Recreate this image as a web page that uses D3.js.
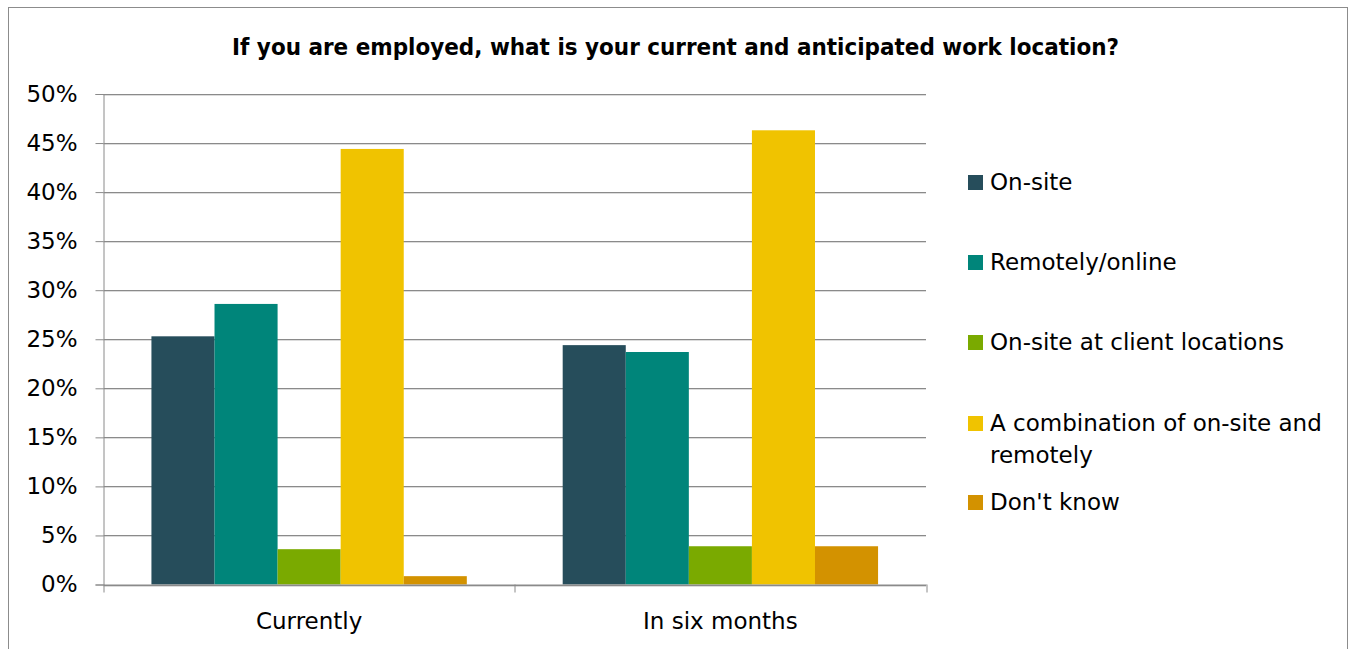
<!DOCTYPE html>
<html>
<head>
<meta charset="utf-8">
<script src="https://cdn.jsdelivr.net/npm/d3@7"></script>
<style>
  body { margin: 0; background: #fff; }
  text { font-family: "DejaVu Sans", sans-serif; fill: #000; }
</style>
</head>
<body>
<div id="chart"></div>
<script>
var svgWidth = 1349;
var svgHeight = 649;

// data
var categories = ["Currently", "In six months"];
var seriesNames = ["On-site", "Remotely/online", "On-site at client locations", "A combination of on-site and remotely", "Don't know"];
var seriesColors = ["#264d5b", "#00857a", "#7aaa00", "#f0c300", "#d39200"];
var onSite = [25.3, 24.4];
var remotely = [28.6, 23.7];
var clientSites = [3.6, 3.9];
var combination = [44.4, 46.3];
var dontKnow = [0.85, 3.9];
var yTicks = [0, 5, 10, 15, 20, 25, 30, 35, 40, 45, 50];

var seriesValues = [onSite, remotely, clientSites, combination, dontKnow];

var margin = { top: 94, left: 103.5, right: 1349 - 926, bottom: 649 - 584.5 };
var width = svgWidth - margin.left - margin.right;
var height = svgHeight - margin.top - margin.bottom;

var svg = d3.select("#chart")
    .append("svg")
    .attr("width", svgWidth)
    .attr("height", svgHeight);

// outer frame
svg.append("rect")
    .attr("x", 8.5)
    .attr("y", 7.5)
    .attr("width", 1339)
    .attr("height", 700)
    .attr("fill", "none")
    .attr("stroke", "#8c8c8c")
    .attr("stroke-width", 1);

svg.append("text")
    .attr("x", 675.5)
    .attr("y", 55)
    .attr("text-anchor", "middle")
    .attr("textLength", 887)
    .attr("lengthAdjust", "spacingAndGlyphs")
    .style("font-size", "23px")
    .style("font-weight", "bold")
    .text("If you are employed, what is your current and anticipated work location?");

var chartGroup = svg.append("g")
    .attr("transform", `translate(${margin.left}, ${margin.top})`);

var x0 = d3.scaleBand()
    .domain(categories)
    .range([0, width]);

var x1 = d3.scaleBand()
    .domain(d3.range(seriesNames.length))
    .range([0, x0.bandwidth()])
    .paddingInner(0)
    .paddingOuter(0.76);

var y = d3.scaleLinear()
    .domain([0, 50])
    .range([height, 0]);

// gridlines
var grid = chartGroup.append("g");
yTicks.forEach(function(t) {
    grid.append("line")
        .attr("x1", 0).attr("x2", width)
        .attr("y1", Math.round(y(t)) + 0.5).attr("y2", Math.round(y(t)) + 0.5)
        .attr("stroke", "#8a8a8a");
    grid.append("line")
        .attr("x1", 0).attr("x2", width)
        .attr("y1", Math.round(y(t)) + 1.5).attr("y2", Math.round(y(t)) + 1.5)
        .attr("stroke", "#dcdcdc");
});

// bars
categories.forEach(function(cat, ci) {
    var g = chartGroup.append("g")
        .attr("transform", `translate(${x0(cat)}, 0)`);
    g.selectAll("rect")
        .data(seriesValues.map(function(vals, si) { return { si: si, v: vals[ci] }; }))
        .enter()
        .append("rect")
        .attr("x", d => x1(d.si))
        .attr("width", x1.bandwidth())
        .attr("y", d => y(d.v))
        .attr("height", d => height - y(d.v))
        .attr("fill", d => seriesColors[d.si]);
});

// y axis
var leftAxis = d3.axisLeft(y)
    .tickValues(yTicks)
    .tickSize(8)
    .tickPadding(18)
    .tickFormat(d => d + "%");

var yAxis = chartGroup.append("g").call(leftAxis);
yAxis.select(".domain").attr("stroke", "#8a8a8a");
yAxis.selectAll(".tick line").attr("stroke", "#8a8a8a");
yAxis.selectAll("text")
    .style("font-size", "23px")
    .style("font-family", "'DejaVu Sans', sans-serif")
    .attr("fill", "#000");

// x axis
var bottomAxis = d3.axisBottom(x0).tickSize(0).tickPadding(28);
var xAxis = chartGroup.append("g")
    .attr("transform", `translate(0, ${height})`)
    .call(bottomAxis);
xAxis.select(".domain").attr("stroke", "#8a8a8a");
xAxis.selectAll("text")
    .style("font-size", "23px")
    .style("font-family", "'DejaVu Sans', sans-serif")
    .attr("fill", "#000");

// x separators
[0, x0.bandwidth(), width].forEach(function(px) {
    chartGroup.append("line")
        .attr("x1", Math.round(px) + 0.5).attr("x2", Math.round(px) + 0.5)
        .attr("y1", height).attr("y2", height + 8)
        .attr("stroke", "#8a8a8a");
});

// legend
var legendY = [182, 262, 342, 423, 502];
var legend = svg.append("g");
seriesNames.forEach(function(name, i) {
    var item = legend.append("g")
        .attr("transform", `translate(968, ${legendY[i]})`);
    item.append("rect")
        .attr("x", 0).attr("y", -7)
        .attr("width", 15).attr("height", 15)
        .attr("fill", seriesColors[i]);
    var lines = name === "A combination of on-site and remotely"
        ? ["A combination of on-site and", "remotely"] : [name];
    lines.forEach(function(ln, li) {
        item.append("text")
            .attr("x", 22)
            .attr("y", li * 32)
            .attr("dy", "0.35em")
            .style("font-size", "23px")
            .text(ln);
    });
});
</script>
</body>
</html>
